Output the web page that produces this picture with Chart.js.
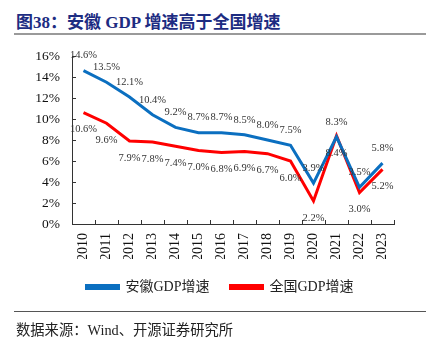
<!DOCTYPE html>
<html lang="zh">
<head>
<meta charset="UTF-8">
<title>安徽 GDP 增速高于全国增速</title>
<script src="https://cdn.jsdelivr.net/npm/chart.js"></script>
<style>
  body { margin: 0; background: #fff; }
  #wrap { position: relative; width: 434px; height: 342px; overflow: hidden; }
  #title { position: absolute; left: 16px; top: 8px; font: bold 17px "Liberation Serif", "Noto Sans CJK SC", serif; color: #1d2c82; white-space: nowrap; }
  #rule1 { position: absolute; left: 14px; top: 33px; width: 412px; height: 2px; background: #9a9a9a; }
  #rule2 { position: absolute; left: 14px; top: 311px; width: 412px; height: 1px; background: #555; }
  #source { position: absolute; left: 16px; top: 318px; font: 14.3px "Liberation Serif", "Noto Sans CJK SC", serif; color: #222; white-space: nowrap; }
  canvas { position: absolute; left: 0; top: 0; }
</style>
</head>
<body>
<div id="wrap">
  <div id="title">图38：安徽 GDP 增速高于全国增速</div>
  <div id="rule1"></div>
  <canvas id="chartCanvas" width="434" height="342"></canvas>
  <div id="rule2"></div>
  <div id="source">数据来源：Wind、开源证券研究所</div>
</div>
<script>
  // data
  const years = ['2010', '2011', '2012', '2013', '2014', '2015', '2016', '2017', '2018', '2019', '2020', '2021', '2022', '2023'];
  const anhuiGrowth = [14.6, 13.5, 12.1, 10.4, 9.2, 8.7, 8.7, 8.5, 8.0, 7.5, 3.9, 8.3, 3.5, 5.8];
  const chinaGrowth = [10.6, 9.6, 7.9, 7.8, 7.4, 7.0, 6.8, 6.9, 6.7, 6.0, 2.2, 8.4, 3.0, 5.2];

  const serif = '"Liberation Serif", "Times New Roman", serif';

  // value labels: blue above the line, red below
  const valueLabels = {
    id: 'valueLabels',
    afterDatasetsDraw(chart) {
      const ctx = chart.ctx;
      ctx.save();
      ctx.font = '10.5px ' + serif;
      ctx.fillStyle = '#333';
      ctx.textAlign = 'center';
      ctx.textBaseline = 'middle';
      chart.data.datasets.forEach((ds, i) => {
        const offset = i === 0 ? -15 : 17;
        chart.getDatasetMeta(i).data.forEach((pt, j) => {
          ctx.fillText(ds.data[j].toFixed(1) + '%', pt.x, pt.y + offset);
        });
      });
      ctx.restore();
    }
  };

  new Chart(document.getElementById('chartCanvas'), {
    type: 'line',
    data: {
      labels: years,
      datasets: [
        { label: '安徽GDP增速', data: anhuiGrowth, borderColor: '#0b6fc0', backgroundColor: '#0b6fc0', borderWidth: 3, pointRadius: 0, tension: 0 },
        { label: '全国GDP增速', data: chinaGrowth, borderColor: '#ff0000', backgroundColor: '#ff0000', borderWidth: 3, pointRadius: 0, tension: 0 }
      ]
    },
    options: {
      responsive: false,
      animation: false,
      layout: { padding: { top: 56, right: 0, bottom: 38, left: 6 } },
      scales: {
        x: {
          offset: true,
          // negative tick length puts the tick marks inside the plot
          grid: { display: true, drawOnChartArea: false, offset: true, tickLength: -4, color: '#333', tickColor: '#333' },
          border: { color: '#333', width: 1 },
          ticks: { maxRotation: 90, minRotation: 90, color: '#111', font: { family: serif, size: 14 }, padding: 13 },
          afterFit(scale) { scale.height = 35; }
        },
        y: {
          min: 0, max: 16,
          ticks: { stepSize: 2, color: '#111', font: { family: serif, size: 13.5 }, padding: 16, callback: v => v + '%' },
          grid: { display: true, drawOnChartArea: false, tickLength: -4, color: '#333', tickColor: '#333' },
          border: { color: '#333', width: 1 },
          afterFit(scale) { scale.width = 66; }
        },
        // empty right-hand axis, only keeps space on the right
        yRight: {
          position: 'right',
          display: true,
          grid: { display: false },
          border: { display: false },
          ticks: { display: false },
          afterFit(scale) { scale.width = 40; }
        }
      },
      plugins: {
        legend: {
          position: 'bottom',
          labels: {
            boxWidth: 32, boxHeight: 3, padding: 21, color: '#222',
            font: { family: serif + ', "Noto Sans CJK SC"', size: 14 }
          }
        },
        tooltip: { enabled: false }
      }
    },
    plugins: [valueLabels]
  });
</script>
</body>
</html>
